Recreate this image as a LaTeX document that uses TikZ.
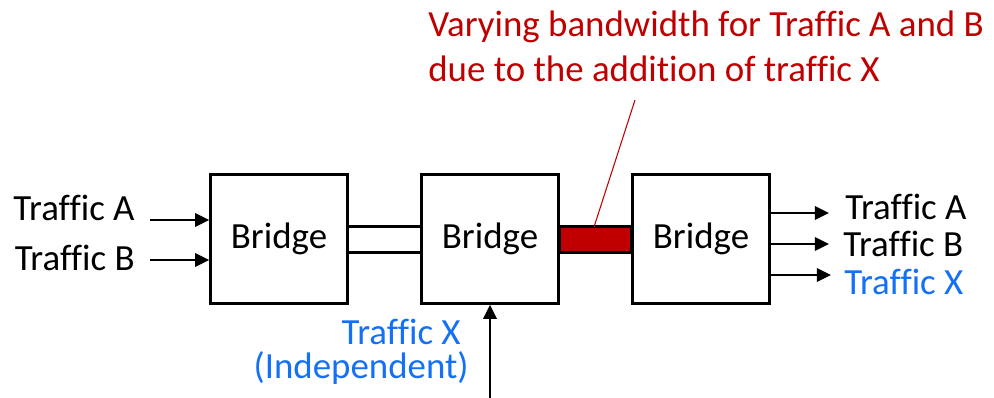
\documentclass[tikz,border=0pt]{standalone}
\usepackage{fontspec}
\setmainfont{Carlito}[Ligatures=CommonOff]
\usetikzlibrary{arrows.meta}
\definecolor{darkred}{RGB}{192,0,0}
\definecolor{xblue}{RGB}{20,112,245}

\begin{document}
\begin{tikzpicture}[x=0.02cm,y=-0.02cm,
  bridge/.style={draw,line width=1.4pt,minimum width=2.74cm,minimum height=2.58cm,
    font=\fontsize{21}{24}\selectfont},
  lbl/.style={inner sep=0pt,font=\fontsize{21}{24}\selectfont},
  arr/.style={line width=1.4pt,-{Triangle[length=8pt,width=7.5pt]}}]
        \useasboundingbox (0,0) rectangle (994,398) ;
        % the three bridges
        \node[bridge] (b1) at (279,239) {Bridge} ;
        \node[bridge] (b2) at (490,239) {Bridge} ;
        \node[bridge] (b3) at (701,239) {Bridge} ;
        % links
        \draw[line width=1.4pt] ([yshift=0.25cm]b1.east) -- ([yshift=0.25cm]b2.west) ;
        \draw[line width=1.4pt] ([yshift=-0.27cm]b1.east) -- ([yshift=-0.27cm]b2.west) ;
        \draw[line width=1.4pt,fill=darkred]
        ([yshift=0.25cm]b2.east) rectangle ([yshift=-0.27cm]b3.west) ;
        % inputs
        \node[lbl,anchor=base east] (inA) at (135,221) {Traffic A} ;
        \node[lbl,anchor=base east] (inB) at (135,271) {Traffic B} ;
        \coordinate (a1) at (150,220) ;
        \coordinate (a2) at (150,260) ;
        \draw[arr] (a1) -- (a1 -| b1.west) ;
        \draw[arr] (a2) -- (a2 -| b1.west) ;
        % outputs
        \coordinate (oA) at (829,213) ;
        \coordinate (oB) at (829,244) ;
        \coordinate (oX) at (831,275) ;
        \draw[arr] (oA -| b3.east) -- (oA) ;
        \draw[arr] (oB -| b3.east) -- (oB) ;
        \draw[arr] (oX -| b3.east) -- (oX) ;
        \node[lbl,anchor=base west] (outA) at (845,220) {Traffic A} ;
        \node[lbl,anchor=base west] (outB) at (843,257) {Traffic B} ;
        \node[lbl,anchor=base west,text=xblue] (outX) at (844,295) {Traffic X} ;
        % traffic X enters from below
        \coordinate (xsrc) at (490,398) ;
        \draw[arr] (xsrc) -- (b2.south) ;
        \node[lbl,anchor=base east,text=xblue] (xin) at (461,345) {Traffic X} ;
        \node[lbl,anchor=base east,text=xblue] (xind) at (469,378) {(Independent)} ;
        % note on the red link
        \node[lbl,anchor=north west,align=left,text=darkred,
          font=\fontsize{21}{25.5}\selectfont] (note) at (428,11)
        {Varying bandwidth for Traffic A and B\\due to the addition of traffic X} ;
        \coordinate (bartop) at (594,227) ;
        \coordinate (noteend) at (635,100) ;
        \draw[darkred,line width=0.6pt] (bartop) -- (noteend) ;
      \end{tikzpicture}
\end{document}
